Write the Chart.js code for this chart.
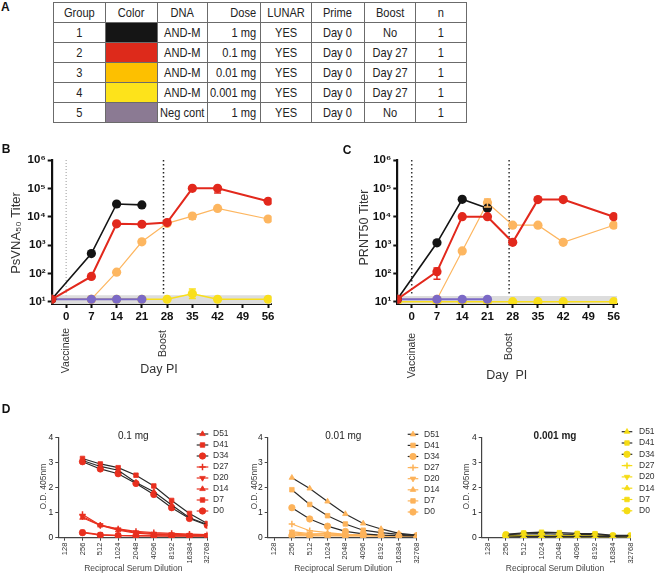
<!DOCTYPE html>
<html><head><meta charset="utf-8">
<script src="https://cdn.jsdelivr.net/npm/chart.js@4.4.1/dist/chart.umd.min.js"></script>
<style>
html,body{margin:0;padding:0;background:#fff;}
body{width:655px;height:574px;position:relative;overflow:hidden;font-family:"Liberation Sans",Arial,sans-serif;}
canvas{position:absolute;}
#panelA{position:absolute;left:1px;top:0px;font:bold 12px "Liberation Sans",Arial,sans-serif;color:#111;}
#tbl{position:absolute;left:53px;top:2px;border-collapse:collapse;table-layout:fixed;width:413px;
  font-family:"Liberation Sans",Arial,sans-serif;font-size:13.5px;color:#222;}
#tbl tr{height:20px;}
#tbl td{border:1.5px solid #6b6b6b;padding:0;line-height:17px;white-space:nowrap;overflow:hidden;}
#tbl td div{transform-origin:0 0;transform:scaleX(0.82);text-align:center;}
#tbl td.r div{text-align:right;}
</style></head><body>
<div id="panelA">A</div>
<table id="tbl"><colgroup id="cols"></colgroup><tbody id="tb"></tbody></table>
<canvas id="cB" width="325" height="245" style="left:0px;top:140px"></canvas>
<canvas id="cC" width="330" height="245" style="left:325px;top:140px"></canvas>
<canvas id="cD1" width="235" height="179" style="left:0px;top:395px"></canvas>
<canvas id="cD2" width="210" height="179" style="left:235px;top:395px"></canvas>
<canvas id="cD3" width="210" height="179" style="left:445px;top:395px"></canvas>
<script>
// ---------------- Panel A (table) ----------------
const tableHeader = ['Group','Color','DNA','Dose','LUNAR','Prime','Boost','n'];
const groupIds = ['1','2','3','4','5'];
const groupColors = ['#151515','#dd2a1b','#fdc000','#fde31b','#8b7a93'];
const dnaNames = ['AND-M','AND-M','AND-M','AND-M','Neg cont'];
const doses = ['1 mg','0.1 mg','0.01 mg','0.001 mg','1 mg'];
const lunarFlags = ['YES','YES','YES','YES','YES'];
const primeDays = ['Day 0','Day 0','Day 0','Day 0','Day 0'];
const boostDays = ['No','Day 27','Day 27','Day 27','No'];
const nValues = ['1','1','1','1','1'];

// ---------------- Panel B / C (titers) ----------------
const allDays = [-4, 7, 14, 21, 28, 35, 42, 56];
const earlyDays = [-4, 7, 14, 21];
const dayTicks = [0, 7, 14, 21, 28, 35, 42, 49, 56];
const dayTickLabels = ['0','7','14','21','28','35','42','49','56'];
const titerTicks = [10, 100, 1000, 10000, 100000, 1000000];
const titerTickLabels = ['10\u00B9','10\u00B2','10\u00B3','10\u2074','10\u2075','10\u2076'];
const bandDays = [-4, 57];

// B: PsVNA50
const bBlack  = [12.2, 500, 28000, 26000];
const bRed    = [12.2, 78, 5600, 5400, 6200, 100000, 100000, 35000];
const bOrange = [12.2, 12.2, 110, 1300, 5800, 10500, 19500, 8300];
const bYellow = [12.2, 12.2, 12.2, 12.2, 12.2, 19, 12.2, 12.2];
const bPurple = [12.2, 12.2, 12.2, 12.2];
const bBand   = [17, 17];
// error bars B: [series, day, low, high]
const bErrors = [['red', 42, 68000, 100000], ['orange', 35, 8200, 12500], ['yellow', 35, 13, 28]];

// C: PRNT50
const cBlack  = [12.2, 1200, 41000, 20000];
const cRed    = [12.2, 115, 10000, 10000, 1250, 40000, 40000, 10000];
const cOrange = [12.2, 12.2, 620, 31000, 5000, 5000, 1250, 5000];
const cYellow = [10, 10, 10, 10, 10, 10, 10, 10];
const cPurple = [12.2, 12.2, 12.2, 12.2];
const cBand   = [16, 16];
const cErrors = [['red', 7, 62, 155], ['orange', 21, 22000, 42000]];

// ---------------- Panel D (ELISA) ----------------
const dilutions = [256, 512, 1024, 2048, 4096, 8192, 16384, 32768];
const dilTicks = [128, 256, 512, 1024, 2048, 4096, 8192, 16384, 32768];
const dilTickLabels = ['128','256','512','1024','2048','4096','8192','16384','32768'];
const odTicks = [0, 1, 2, 3, 4];
const odTickLabels = ['0','1','2','3','4'];
const bleedDays = ['D51','D41','D34','D27','D20','D14','D7','D0'];

const d1_D51 = [3.09, 2.85, 2.70, 2.21, 1.84, 1.31, 0.80, 0.53];
const d1_D41 = [3.17, 2.95, 2.80, 2.50, 2.07, 1.49, 0.97, 0.57];
const d1_D34 = [3.04, 2.75, 2.56, 2.17, 1.73, 1.20, 0.77, 0.50];
const d1_D27 = [0.93, 0.50, 0.35, 0.25, 0.20, 0.17, 0.14, 0.12];
const d1_D20 = [0.85, 0.50, 0.33, 0.21, 0.16, 0.13, 0.11, 0.10];
const d1_D14 = [0.80, 0.49, 0.30, 0.18, 0.13, 0.11, 0.09, 0.08];
const d1_D7  = [0.22, 0.12, 0.09, 0.08, 0.07, 0.07, 0.07, 0.07];
const d1_D0  = [0.20, 0.10, 0.08, 0.07, 0.07, 0.06, 0.06, 0.06];

const d2_D51 = [2.40, 1.97, 1.45, 0.95, 0.57, 0.35, 0.17, 0.10];
const d2_D41 = [1.92, 1.33, 0.88, 0.55, 0.30, 0.20, 0.13, 0.09];
const d2_D34 = [1.20, 0.75, 0.46, 0.25, 0.15, 0.10, 0.08, 0.07];
const d2_D27 = [0.55, 0.28, 0.20, 0.13, 0.10, 0.09, 0.08, 0.07];
const d2_D20 = [0.24, 0.16, 0.15, 0.12, 0.10, 0.08, 0.07, 0.07];
const d2_D14 = [0.20, 0.12, 0.17, 0.10, 0.09, 0.08, 0.07, 0.07];
const d2_D7  = [0.15, 0.10, 0.10, 0.08, 0.08, 0.07, 0.07, 0.07];
const d2_D0  = [0.08, 0.07, 0.07, 0.07, 0.07, 0.07, 0.07, 0.07];

const d3_D51 = [0.07, 0.05, 0.05, 0.05, 0.05, 0.05, 0.05, 0.06];
const d3_D41 = [0.13, 0.19, 0.22, 0.20, 0.17, 0.16, 0.09, 0.09];
const d3_D34 = [0.12, 0.15, 0.16, 0.14, 0.13, 0.12, 0.08, 0.08];
const d3_D27 = [0.10, 0.09, 0.08, 0.07, 0.07, 0.06, 0.06, 0.06];
const d3_D20 = [0.09, 0.08, 0.07, 0.06, 0.06, 0.06, 0.06, 0.06];
const d3_D14 = [0.08, 0.07, 0.06, 0.06, 0.05, 0.05, 0.05, 0.05];
const d3_D7  = [0.07, 0.06, 0.05, 0.05, 0.05, 0.04, 0.05, 0.05];
const d3_D0  = [0.06, 0.05, 0.05, 0.04, 0.04, 0.04, 0.04, 0.04];

// ---------------- build table ----------------
(function(){
  const widths = [52.3, 51.7, 50, 52.6, 51.7, 52.3, 51.7, 51];
  const SX = 0.82;
  const cols = document.getElementById('cols');
  widths.forEach(w => { const c = document.createElement('col'); c.style.width = w + 'px'; cols.appendChild(c); });
  const tb = document.getElementById('tb');
  const addRow = (cells, colorIdx) => {
    const tr = document.createElement('tr');
    cells.forEach((txt, j) => {
      const td = document.createElement('td');
      if (j === 3) td.className = 'r';
      if (j === 1 && colorIdx !== null) { td.style.background = groupColors[colorIdx]; }
      else {
        const d = document.createElement('div');
        const inner = widths[j] - 1.5 - (j === 3 ? 3 : 0);
        d.style.width = (inner / SX) + 'px';
        d.textContent = txt;
        td.appendChild(d);
      }
      tr.appendChild(td);
    });
    tb.appendChild(tr);
  };
  addRow(tableHeader, null);
  groupIds.forEach((g, i) => addRow([g, '', dnaNames[i], doses[i], lunarFlags[i], primeDays[i], boostDays[i], nValues[i]], i));
})();

// ---------------- chart helpers ----------------
const FONT = '"Liberation Sans", Arial, sans-serif';
Chart.defaults.font.family = FONT;
Chart.defaults.animation = false;
Chart.defaults.responsive = false;
Chart.defaults.plugins.legend.display = false;
Chart.defaults.plugins.tooltip.enabled = false;

const pts = (xs, ys) => xs.map((x, i) => ({x: x, y: ys[i]}));

const extras = {
  id: 'extras',
  beforeDatasetsDraw(chart) {
    const o = chart.options.plugins.extras || {};
    const ctx = chart.ctx, a = chart.chartArea, xs = chart.scales.x;
    (o.vlines || []).forEach(v => {
      const px = xs.getPixelForValue(v.day);
      ctx.save(); ctx.strokeStyle = v.color; ctx.lineWidth = v.width; ctx.setLineDash(v.dash);
      ctx.beginPath(); ctx.moveTo(px, a.top); ctx.lineTo(px, a.bottom); ctx.stroke(); ctx.restore();
    });
  },
  afterDatasetsDraw(chart) {
    const o = chart.options.plugins.extras || {};
    const ctx = chart.ctx, xs = chart.scales.x, ys = chart.scales.y;
    (o.errors || []).forEach(e => {
      const ds = chart.data.datasets.find(d => d.label === e[0]);
      const px = xs.getPixelForValue(e[1]);
      const y1 = ys.getPixelForValue(e[2]), y2 = ys.getPixelForValue(e[3]);
      ctx.save(); ctx.strokeStyle = ds.borderColor; ctx.lineWidth = 1.5;
      ctx.beginPath(); ctx.moveTo(px, y1); ctx.lineTo(px, y2);
      ctx.moveTo(px - 3.5, y1); ctx.lineTo(px + 3.5, y1);
      ctx.moveTo(px - 3.5, y2); ctx.lineTo(px + 3.5, y2);
      ctx.stroke(); ctx.restore();
    });
  },
  afterDraw(chart) {
    const o = chart.options.plugins.extras || {};
    const ctx = chart.ctx;
    (o.texts || []).forEach(t => {
      ctx.save();
      ctx.font = t.font; ctx.fillStyle = t.color || '#222';
      ctx.textAlign = t.align || 'center'; ctx.textBaseline = 'middle';
      let x = t.x;
      if (t.day !== undefined) x = chart.scales.x.getPixelForValue(t.day);
      ctx.translate(x, t.y);
      if (t.rot) ctx.rotate(-Math.PI / 2);
      ctx.fillText(t.text, 0, 0);
      ctx.restore();
    });
    const lg = o.legend;
    if (lg) {
      chart.data.datasets.forEach((ds, i) => {
        const y = lg.y0 + i * lg.dy;
        ctx.save();
        ctx.strokeStyle = ds.borderColor; ctx.lineWidth = 1.2;
        ctx.beginPath(); ctx.moveTo(lg.x0, y); ctx.lineTo(lg.x1, y); ctx.stroke();
        ctx.fillStyle = ds.pointBackgroundColor; ctx.strokeStyle = ds.pointBorderColor;
        ctx.lineWidth = ds.pointBorderWidth;
        Chart.helpers.drawPoint(ctx, {pointStyle: ds.pointStyle, rotation: ds.pointRotation || 0,
          radius: ds.pointRadius, borderWidth: ds.pointBorderWidth}, (lg.x0 + lg.x1) / 2, y);
        ctx.fillStyle = '#333'; ctx.font = lg.font; ctx.textAlign = 'left'; ctx.textBaseline = 'middle';
        ctx.fillText(ds.label, lg.tx, y);
        ctx.restore();
      });
    }
  }
};
Chart.register(extras);

// ---------------- Panels B & C ----------------
const BLACK = '#141414', RED = '#e2281c', ORANGE = '#fdb660', YELLOW = '#f9df1c', PURPLE = '#7b69c6';

function titerLine(label, data, color, width) {
  return {label, data, borderColor: color, backgroundColor: color, pointBackgroundColor: color,
    pointBorderColor: color, pointBorderWidth: 0, pointRadius: 4.6, borderWidth: width, tension: 0, fill: false};
}

function titerChart(id, geo, sets, band, errors, vlines, texts) {
  const W = geo.W, H = geo.H;
  new Chart(document.getElementById(id), {
    type: 'line',
    data: { datasets: [
      titerLine('red', pts(allDays, sets.red), RED, 2),
      titerLine('black', pts(earlyDays, sets.black), BLACK, 1.6),
      titerLine('purple', pts(earlyDays, sets.purple), PURPLE, 2),
      titerLine('orange', pts(allDays, sets.orange), ORANGE, 1.2),
      titerLine('yellow', pts(allDays, sets.yellow), YELLOW, 1.6),
      {label: 'band', data: pts(bandDays, band), borderWidth: 0, pointRadius: 0, fill: 'start',
       backgroundColor: '#dddddd', borderColor: 'rgba(0,0,0,0)'}
    ]},
    options: {
      layout: {padding: {left: 0, top: geo.T, right: W - geo.R, bottom: 0}},
      scales: {
        x: {type: 'linear', min: -4, max: 57, bounds: 'data',
          afterFit: s => { s.height = H - geo.B; },
          afterBuildTicks: s => { s.ticks = dayTicks.map(v => ({value: v})); },
          ticks: {callback: (v, i) => dayTickLabels[i], font: {size: 11.5, weight: 'bold'}, color: '#111',
                  padding: 2, autoSkip: false, maxRotation: 0},
          grid: {drawOnChartArea: false, drawTicks: true, tickLength: 4, tickWidth: 2, tickColor: '#111'},
          border: {display: true, color: '#111', width: 2}},
        y: {type: 'logarithmic', min: 8.3, max: 1000000, bounds: 'data',
          afterFit: s => { s.width = geo.L; },
          afterBuildTicks: s => { s.ticks = titerTicks.map(v => ({value: v})); },
          ticks: {callback: (v, i) => titerTickLabels[i], font: {size: 11.5, weight: 'bold'}, color: '#111',
                  padding: 2, autoSkip: false},
          grid: {drawOnChartArea: false, drawTicks: true, tickLength: 4, tickWidth: 2, tickColor: '#111'},
          border: {display: true, color: '#111', width: 2.2}}
      },
      plugins: {extras: {errors, vlines, texts}}
    }
  });
}

titerChart('cB', {W: 325, H: 245, L: 51.7, T: 20, R: 271.7, B: 164},
  {red: bRed, black: bBlack, purple: bPurple, orange: bOrange, yellow: bYellow}, bBand, bErrors,
  [{day: 0, color: '#9a9a9a', width: 1, dash: [1, 2]}, {day: 27, color: '#222', width: 1.5, dash: [1.5, 2.5]}],
  [{text: 'B', x: 6, y: 10, font: 'bold 12px ' + FONT, color: '#111'},
   {text: 'PsVNA\u2085\u2080 Titer', x: 16.5, y: 93, rot: true, font: '13px ' + FONT, color: '#333'},
   {text: 'Vaccinate', day: 0, y: 210.5, rot: true, font: '10.5px ' + FONT, color: '#333'},
   {text: 'Boost', day: 27, y: 203.5, rot: true, font: '10.5px ' + FONT, color: '#333'},
   {text: 'Day PI', x: 159, y: 230, font: '12.5px ' + FONT, color: '#333'}]);

titerChart('cC', {W: 330, H: 245, L: 72.3, T: 20, R: 292.3, B: 164},
  {red: cRed, black: cBlack, purple: cPurple, orange: cOrange, yellow: cYellow}, cBand, cErrors,
  [{day: 0, color: '#333', width: 1.5, dash: [1.5, 2.5]}, {day: 27, color: '#333', width: 1.5, dash: [1.5, 2.5]}],
  [{text: 'C', x: 22, y: 11, font: 'bold 12px ' + FONT, color: '#111'},
   {text: 'PRNT50 Titer', x: 40, y: 87.5, rot: true, font: '12.5px ' + FONT, color: '#333'},
   {text: 'Vaccinate', day: 0, y: 215.5, rot: true, font: '10.5px ' + FONT, color: '#333'},
   {text: 'Boost', day: 27, y: 206.5, rot: true, font: '10.5px ' + FONT, color: '#333'},
   {text: 'Day  PI', x: 181.7, y: 236, font: '12.5px ' + FONT, color: '#333'}]);

// ---------------- Panel D ----------------
const DARK = '#2a2a2a';
const markerStyles = [
  {ps: 'triangle', rot: 0}, {ps: 'rect', rot: 0}, {ps: 'circle', rot: 0}, {ps: 'cross', rot: 0},
  {ps: 'triangle', rot: 180}, {ps: 'triangle', rot: 0}, {ps: 'rect', rot: 0}, {ps: 'circle', rot: 0}];

function elisaChart(id, geo, series, color, texts, legend) {
  const W = geo.W, H = geo.H;
  const datasets = series.map((vals, i) => ({
    label: bleedDays[i], data: pts(dilutions, vals),
    borderColor: i < 3 ? DARK : color, borderWidth: 1.2,
    pointStyle: markerStyles[i].ps, pointRotation: markerStyles[i].rot,
    pointBackgroundColor: color, pointBorderColor: color, pointBorderWidth: markerStyles[i].ps === 'cross' ? 1.5 : 0.8,
    pointRadius: 3.2, tension: 0, fill: false
  }));
  new Chart(document.getElementById(id), {
    type: 'line',
    data: {datasets},
    options: {
      layout: {padding: {left: 0, top: geo.T, right: W - geo.R, bottom: 0}},
      scales: {
        x: {type: 'logarithmic', min: 100, max: 32768, bounds: 'data',
          afterFit: s => { s.height = H - geo.B; },
          afterBuildTicks: s => { s.ticks = dilTicks.map(v => ({value: v})); },
          ticks: {callback: (v, i) => dilTickLabels[i], font: {size: 7.5}, color: '#333', padding: 2,
                  autoSkip: false, minRotation: 90, maxRotation: 90},
          grid: {drawOnChartArea: false, drawTicks: true, tickLength: 3, tickWidth: 1, tickColor: '#444'},
          border: {display: true, color: '#444', width: 1.2}},
        y: {type: 'linear', min: 0, max: 4, bounds: 'data',
          afterFit: s => { s.width = geo.L; },
          afterBuildTicks: s => { s.ticks = odTicks.map(v => ({value: v})); },
          ticks: {callback: (v, i) => odTickLabels[i], font: {size: 8.5}, color: '#222', padding: 2, autoSkip: false},
          grid: {drawOnChartArea: false, drawTicks: true, tickLength: 3, tickWidth: 1, tickColor: '#444'},
          border: {display: true, color: '#444', width: 1.2}}
      },
      plugins: {extras: {texts, legend}}
    }
  });
}

const dTextsCommon = (cx, ytx, title, bold) => [
  {text: title, x: cx, y: 41.5, font: (bold ? 'bold ' : '') + '10px ' + FONT, color: '#222'},
  {text: 'O.D. 405nm', x: ytx, y: 91.7, rot: true, font: '8.5px ' + FONT, color: '#444'},
  {text: 'Reciprocal Serum Dilution', x: cx, y: 173.3, font: '8.5px ' + FONT, color: '#444'}
];

elisaChart('cD1', {W: 235, H: 179, L: 58.3, T: 42.7, R: 207.3, B: 142.7},
  [d1_D51, d1_D41, d1_D34, d1_D27, d1_D20, d1_D14, d1_D7, d1_D0], '#e8301f',
  [{text: 'D', x: 6, y: 15, font: 'bold 12px ' + FONT, color: '#111'}].concat(dTextsCommon(133.3, 43.3, '0.1 mg', false)),
  {x0: 196.7, x1: 208.3, tx: 213, y0: 39, dy: 11, font: '8.5px ' + FONT});

elisaChart('cD2', {W: 210, H: 179, L: 32.7, T: 42.7, R: 181.7, B: 142.7},
  [d2_D51, d2_D41, d2_D34, d2_D27, d2_D20, d2_D14, d2_D7, d2_D0], '#fdb35a',
  dTextsCommon(108.3, 19.3, '0.01 mg', false),
  {x0: 172.7, x1: 183.3, tx: 189, y0: 39.3, dy: 11.1, font: '8.5px ' + FONT});

elisaChart('cD3', {W: 210, H: 179, L: 36.7, T: 42.7, R: 185.7, B: 142.7},
  [d3_D51, d3_D41, d3_D34, d3_D27, d3_D20, d3_D14, d3_D7, d3_D0], '#f5dc14',
  dTextsCommon(110, 21.7, '0.001 mg', true),
  {x0: 176.7, x1: 187.3, tx: 194, y0: 36.7, dy: 11.3, font: '8.5px ' + FONT});
</script>
</body></html>
